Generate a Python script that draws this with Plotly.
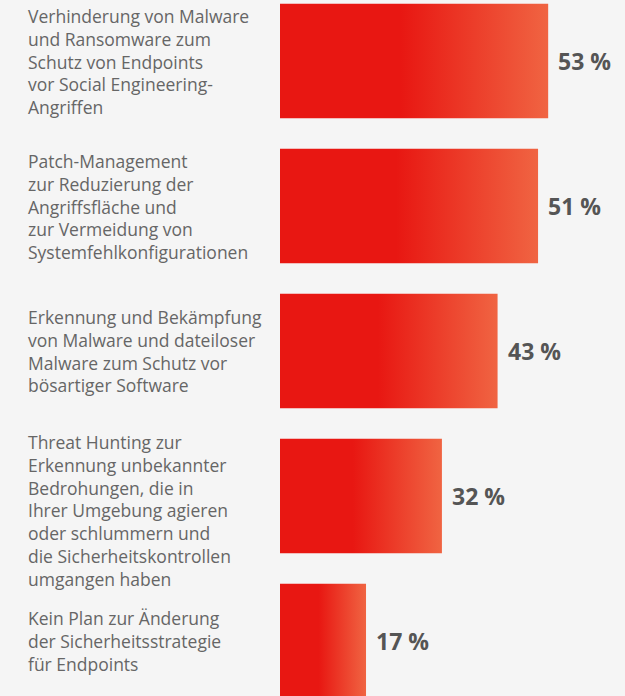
import plotly.graph_objects as go

categories = [
    "Verhinderung von Malware<br>und Ransomware zum<br>Schutz von Endpoints<br>vor Social Engineering-<br>Angriffen",
    "Patch-Management<br>zur Reduzierung der<br>Angriffsfläche und<br>zur Vermeidung von<br>Systemfehlkonfigurationen",
    "Erkennung und Bekämpfung<br>von Malware und dateiloser<br>Malware zum Schutz vor<br>bösartiger Software",
    "Threat Hunting zur<br>Erkennung unbekannter<br>Bedrohungen, die in<br>Ihrer Umgebung agieren<br>oder schlummern und<br>die Sicherheitskontrollen<br>umgangen haben",
    "Kein Plan zur Änderung<br>der Sicherheitsstrategie<br>für Endpoints",
]
values = [53, 51, 43, 32, 17]
value_labels = ["53 %", "51 %", "43 %", "32 %", "17 %"]

BG = "#f5f5f5"
HALF = 0.395
grad = [[0, "#e81712"], [0.45, "#e81712"], [1, "#f06442"]]

fig = go.Figure()
for i, v in enumerate(values):
    fig.add_trace(go.Scatter(
        x=[0, v, v, 0, 0],
        y=[i - HALF, i - HALF, i + HALF, i + HALF, i - HALF],
        mode="lines",
        line=dict(width=0, color="rgba(0,0,0,0)"),
        fill="toself",
        fillgradient=dict(type="horizontal", colorscale=grad),
        hoverinfo="skip",
        showlegend=False,
    ))

annotations = []
for i, (cat, v, lab) in enumerate(zip(categories, values, value_labels)):
    nlines = cat.count("<br>") + 1
    annotations.append(dict(
        xref="paper", yref="y", x=0, y=i, xanchor="left", yanchor="middle",
        xshift=-254, yshift=-14 if nlines > 5 else 0,
        text=cat, align="left", showarrow=False,
        font=dict(family="Open Sans", size=17.5, color="#666666"),
    ))
    annotations.append(dict(
        xref="x", yref="y", x=v, y=i, xanchor="left", yanchor="middle",
        xshift=8, text="<b>" + lab + "</b>", showarrow=False,
        font=dict(family="Open Sans", size=23, color="#555555"),
    ))

fig.update_layout(
    width=625, height=696,
    margin=dict(l=280, r=0, t=0, b=0),
    paper_bgcolor=BG, plot_bgcolor=BG,
    xaxis=dict(range=[0, 345 / 5.06], visible=False, fixedrange=True),
    yaxis=dict(range=[(696 - 61) / 145, -61 / 145], visible=False, fixedrange=True),
    annotations=annotations,
    hovermode=False,
)

fig.write_html(
    "out.html",
    config={"displayModeBar": False},
    post_script="document.body.style.margin='0';document.body.style.overflow='hidden';document.body.style.background='#f5f5f5';",
)
